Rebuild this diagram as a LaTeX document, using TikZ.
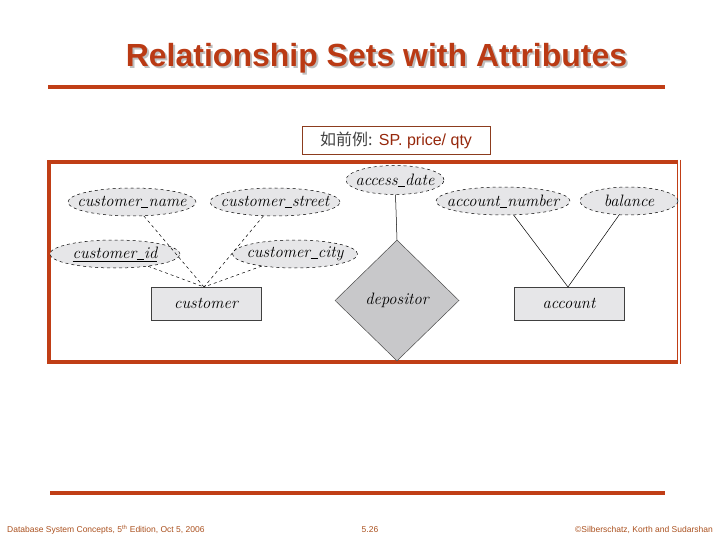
\documentclass[tikz,border=0pt]{standalone}
\usepackage{fontspec}
\setmainfont{Latin Modern Roman}
\newfontfamily\arialf{Liberation Sans}
\newfontfamily\cjk{Noto Sans CJK SC}
\usetikzlibrary{shapes.geometric}
\definecolor{titlered}{RGB}{186,58,20}
\definecolor{barred}{RGB}{192,62,22}
\definecolor{brownbox}{RGB}{140,60,30}
\definecolor{labred}{RGB}{150,40,12}
\definecolor{footbrown}{RGB}{170,80,30}
\definecolor{entfill}{RGB}{230,230,232}
\definecolor{relfill}{RGB}{200,200,202}
\newcommand{\usc}{\kern0.3pt\rule[-1.2pt]{7pt}{0.6pt}\kern0.3pt}
\newcommand{\ztext}[1]{\makebox[0pt][c]{#1}}
\tikzset{
  attr/.style={ellipse, draw=black, dashed, line width=0.5pt, fill=entfill, inner sep=0pt,
    font=\fontsize{16.5}{16}\selectfont\itshape},
  entity/.style={rectangle, draw=black!75, line width=0.6pt, fill=entfill, inner sep=0pt,
    minimum width=110pt, minimum height=33pt, font=\fontsize{16.5}{16}\selectfont\itshape},
  rel/.style={diamond, draw=black!70, line width=0.5pt, fill=relfill, inner sep=0pt, shape aspect=1,
    minimum width=124pt, minimum height=121pt, font=\fontsize{16.5}{16}\selectfont\itshape},
  dlink/.style={dashed, line width=0.5pt},
  slink/.style={line width=0.5pt},
  bar/.style={barred, line width=4.5pt},
  foot/.style={footbrown, font=\arialf\fontsize{8.5}{9}\selectfont, inner sep=0pt}
}
\begin{document}
\begin{tikzpicture}[x=1pt,y=-1pt]
\useasboundingbox (0,0) rectangle (720,540);
% title with shadow
\node[text=black!25, font=\arialf\bfseries\fontsize{32}{34}\selectfont] (tshadow) at (378.5,60) {Relationship Sets with Attributes};
\node[text=titlered, font=\arialf\bfseries\fontsize{32}{34}\selectfont] (title) at (376.5,58) {Relationship Sets with Attributes};
% top and bottom bars
\draw[bar] (48,87) -- (665,87);
\draw[bar] (50,493) -- (665,493);
% label box
\node[draw=brownbox, line width=0.8pt, minimum width=188pt, minimum height=28pt, inner sep=0pt,
  font=\fontsize{16}{16}\selectfont] (lab) at (396,140)
  {{\cjk\color{black!75}如前例:} {\arialf\color{labred} SP. price/ qty}};
% frame
\draw[barred, line width=4pt] (677,162) -- (49,162) -- (49,362) -- (677,362);
\draw[barred, line width=0.8pt] (677,160) -- (677,364);
\draw[barred, line width=0.8pt] (680,160) -- (680,364);
% entities and relationship
\node[entity] (cust) at (206,303.5) {customer};
\node[entity] (acct) at (569,303.5) {account};
\node[rel] (dep) at (397,300.5) {\ztext{depositor}};
% attributes
\node[attr, minimum width=128pt, minimum height=28pt] (cname) at (132,202) {\ztext{customer\usc name}};
\node[attr, minimum width=130pt, minimum height=28pt] (cstreet) at (275,202) {\ztext{customer\usc street}};
\node[attr, minimum width=98pt, minimum height=29pt] (adate) at (395,180) {\ztext{access\usc date}};
\node[attr, minimum width=134pt, minimum height=28pt] (anum) at (503,201) {\ztext{account\usc number}};
\node[attr, minimum width=98pt, minimum height=28pt] (bal) at (629,201) {\ztext{balance}};
\node[attr, minimum width=130pt, minimum height=28pt] (cid) at (115,254) {\ztext{\underline{customer\usc id}}};
\node[attr, minimum width=125pt, minimum height=28pt] (ccity) at (295,254) {\ztext{customer\usc city}};
% connectors
\coordinate (ctop) at (204,287);
\coordinate (atop) at (568,287);
\draw[dlink] (cname) -- (ctop);
\draw[dlink] (cstreet) -- (ctop);
\draw[dlink] (cid) -- (ctop);
\draw[dlink] (ccity) -- (ctop);
\draw[slink] (adate) -- (dep.north);
\draw[slink] (anum) -- (atop);
\draw[slink] (bal) -- (atop);
% footer
\node[foot, anchor=west] (f1) at (7,530) {Database System Concepts, 5\textsuperscript{th} Edition, Oct 5, 2006};
\node[foot] (f2) at (370,530) {5.26};
\node[foot, anchor=east] (f3) at (713,530) {©Silberschatz, Korth and Sudarshan};
\end{tikzpicture}
\end{document}
